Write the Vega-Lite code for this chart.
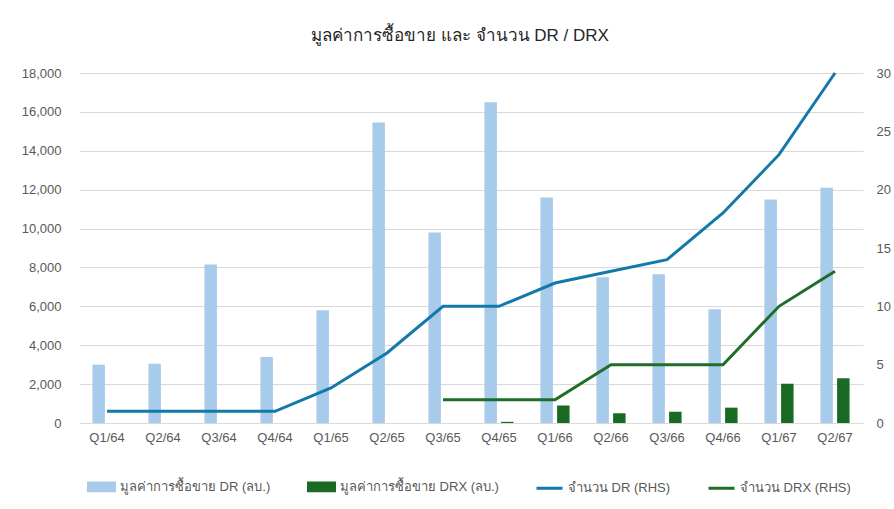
{
  "$schema": "https://vega.github.io/schema/vega-lite/v6.json",
  "width": 784,
  "height": 350,
  "autosize": {"type": "none"},
  "padding": {"left": 79, "top": 73, "right": 31, "bottom": 86},
  "background": "white",
  "title": {
    "text": "มูลค่าการซื้อขาย และ จำนวน DR / DRX",
    "fontSize": 17,
    "fontWeight": "normal",
    "color": "#262626",
    "font": "Liberation Sans, sans-serif",
    "offset": 22,
    "dx": -11
  },
  "config": {
    "font": "Liberation Sans, sans-serif",
    "view": {"stroke": null},
    "axis": {"labelColor": "#595959", "labelFontSize": 13, "title": null, "ticks": false, "domain": false}
  },
  "datasets": {
    "bars": [
      {"q": "Q1/64", "series": "มูลค่าการซื้อขาย DR (ลบ.)", "value": 3000},
      {"q": "Q2/64", "series": "มูลค่าการซื้อขาย DR (ลบ.)", "value": 3050},
      {"q": "Q3/64", "series": "มูลค่าการซื้อขาย DR (ลบ.)", "value": 8150},
      {"q": "Q4/64", "series": "มูลค่าการซื้อขาย DR (ลบ.)", "value": 3400},
      {"q": "Q1/65", "series": "มูลค่าการซื้อขาย DR (ลบ.)", "value": 5800},
      {"q": "Q2/65", "series": "มูลค่าการซื้อขาย DR (ลบ.)", "value": 15450},
      {"q": "Q3/65", "series": "มูลค่าการซื้อขาย DR (ลบ.)", "value": 9800},
      {"q": "Q4/65", "series": "มูลค่าการซื้อขาย DR (ลบ.)", "value": 16500},
      {"q": "Q1/66", "series": "มูลค่าการซื้อขาย DR (ลบ.)", "value": 11600},
      {"q": "Q2/66", "series": "มูลค่าการซื้อขาย DR (ลบ.)", "value": 7500},
      {"q": "Q3/66", "series": "มูลค่าการซื้อขาย DR (ลบ.)", "value": 7650},
      {"q": "Q4/66", "series": "มูลค่าการซื้อขาย DR (ลบ.)", "value": 5850},
      {"q": "Q1/67", "series": "มูลค่าการซื้อขาย DR (ลบ.)", "value": 11500},
      {"q": "Q2/67", "series": "มูลค่าการซื้อขาย DR (ลบ.)", "value": 12100},
      {"q": "Q4/65", "series": "มูลค่าการซื้อขาย DRX (ลบ.)", "value": 60},
      {"q": "Q1/66", "series": "มูลค่าการซื้อขาย DRX (ลบ.)", "value": 900},
      {"q": "Q2/66", "series": "มูลค่าการซื้อขาย DRX (ลบ.)", "value": 500},
      {"q": "Q3/66", "series": "มูลค่าการซื้อขาย DRX (ลบ.)", "value": 580},
      {"q": "Q4/66", "series": "มูลค่าการซื้อขาย DRX (ลบ.)", "value": 790},
      {"q": "Q1/67", "series": "มูลค่าการซื้อขาย DRX (ลบ.)", "value": 2020},
      {"q": "Q2/67", "series": "มูลค่าการซื้อขาย DRX (ลบ.)", "value": 2300}
    ],
    "lines": [
      {"q": "Q1/64", "series": "จำนวน DR (RHS)", "count": 1},
      {"q": "Q2/64", "series": "จำนวน DR (RHS)", "count": 1},
      {"q": "Q3/64", "series": "จำนวน DR (RHS)", "count": 1},
      {"q": "Q4/64", "series": "จำนวน DR (RHS)", "count": 1},
      {"q": "Q1/65", "series": "จำนวน DR (RHS)", "count": 3},
      {"q": "Q2/65", "series": "จำนวน DR (RHS)", "count": 6},
      {"q": "Q3/65", "series": "จำนวน DR (RHS)", "count": 10},
      {"q": "Q4/65", "series": "จำนวน DR (RHS)", "count": 10},
      {"q": "Q1/66", "series": "จำนวน DR (RHS)", "count": 12},
      {"q": "Q2/66", "series": "จำนวน DR (RHS)", "count": 13},
      {"q": "Q3/66", "series": "จำนวน DR (RHS)", "count": 14},
      {"q": "Q4/66", "series": "จำนวน DR (RHS)", "count": 18},
      {"q": "Q1/67", "series": "จำนวน DR (RHS)", "count": 23},
      {"q": "Q2/67", "series": "จำนวน DR (RHS)", "count": 30},
      {"q": "Q3/65", "series": "จำนวน DRX (RHS)", "count": 2},
      {"q": "Q4/65", "series": "จำนวน DRX (RHS)", "count": 2},
      {"q": "Q1/66", "series": "จำนวน DRX (RHS)", "count": 2},
      {"q": "Q2/66", "series": "จำนวน DRX (RHS)", "count": 5},
      {"q": "Q3/66", "series": "จำนวน DRX (RHS)", "count": 5},
      {"q": "Q4/66", "series": "จำนวน DRX (RHS)", "count": 5},
      {"q": "Q1/67", "series": "จำนวน DRX (RHS)", "count": 10},
      {"q": "Q2/67", "series": "จำนวน DRX (RHS)", "count": 13}
    ]
  },
  "encoding": {
    "x": {
      "field": "q",
      "type": "nominal",
      "sort": ["Q1/64","Q2/64","Q3/64","Q4/64","Q1/65","Q2/65","Q3/65","Q4/65","Q1/66","Q2/66","Q3/66","Q4/66","Q1/67","Q2/67"],
      "scale": {"paddingInner": 0.48, "paddingOuter": 0.24},
      "axis": {"labelAngle": 0, "labelPadding": 8, "grid": false}
    },
    "color": {
      "field": "series",
      "type": "nominal",
      "scale": {
        "domain": ["มูลค่าการซื้อขาย DR (ลบ.)", "มูลค่าการซื้อขาย DRX (ลบ.)", "จำนวน DR (RHS)", "จำนวน DRX (RHS)"],
        "range": ["#A8CBEC", "#1B6A24", "#1279A8", "#1E6E28"]
      },
      "legend": {
        "title": null,
        "orient": "bottom",
        "direction": "horizontal",
        "offset": 20,
        "padding": 8,
        "columnPadding": 31,
        "labelFontSize": 13,
        "labelColor": "#595959",
        "labelOffset": 4,
        "symbolSize": 676,
        "labelLimit": 300,
        "encode": {
          "symbols": {
            "update": {
              "shape": {"signal": "indexof(datum.value, 'RHS') >= 0 ? 'M-1,0H1' : 'M-1,-0.3H1V0.3H-1Z'"},
              "fill": {"signal": "indexof(datum.value, 'RHS') >= 0 ? 'transparent' : scale('color', datum.value)"},
              "stroke": {"signal": "indexof(datum.value, 'RHS') >= 0 ? scale('color', datum.value) : 'transparent'"},
              "strokeWidth": {"value": 3},
              "opacity": {"value": 1}
            }
          }
        }
      }
    }
  },
  "layer": [
    {
      "data": {"name": "bars"},
      "mark": {"type": "bar"},
      "encoding": {
        "xOffset": {
          "field": "series",
          "type": "nominal",
          "sort": ["มูลค่าการซื้อขาย DR (ลบ.)", "มูลค่าการซื้อขาย DRX (ลบ.)"],
          "scale": {"domain": ["มูลค่าการซื้อขาย DR (ลบ.)", "มูลค่าการซื้อขาย DRX (ลบ.)"], "paddingInner": 0.25, "paddingOuter": 0}
        },
        "y": {
          "field": "value",
          "type": "quantitative",
          "scale": {"domain": [0, 18000], "nice": false},
          "axis": {"orient": "left", "values": [0,2000,4000,6000,8000,10000,12000,14000,16000,18000], "format": ",d", "grid": true, "gridColor": "#D9D9D9", "gridWidth": 1, "labelPadding": 18}
        }
      }
    },
    {
      "data": {"name": "lines"},
      "mark": {"type": "line", "strokeWidth": 3},
      "encoding": {
        "y": {
          "field": "count",
          "type": "quantitative",
          "scale": {"domain": [0, 30], "nice": false},
          "axis": {"orient": "right", "values": [0,5,10,15,20,25,30], "grid": false, "labelPadding": 13}
        }
      }
    }
  ],
  "resolve": {"scale": {"y": "independent"}, "axis": {"y": "independent"}}
}
